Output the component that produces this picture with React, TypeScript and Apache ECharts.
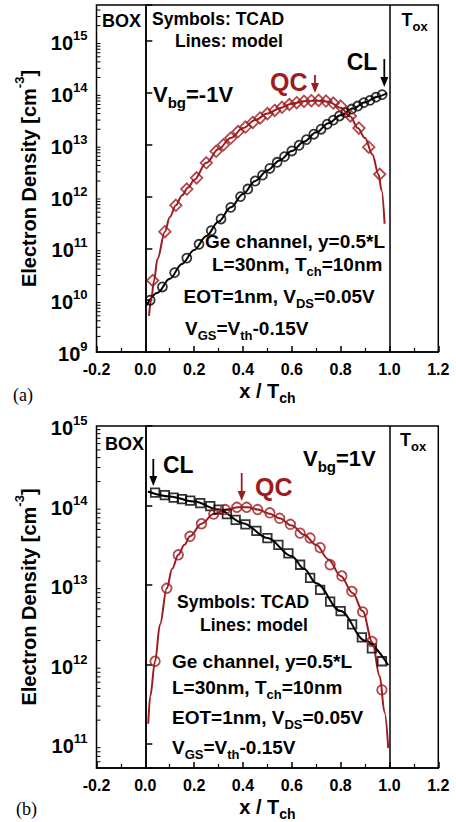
import { useEffect, useRef } from 'react';
import * as echarts from 'echarts';

const SANS = '"Liberation Sans", Arial, Helvetica, sans-serif';
const SERIF = '"Liberation Serif", "Times New Roman", serif';
const RED = '#9e1b1f';
const BLACK = '#000000';

// ---------- axes ----------
const X_MIN = -0.2;
const X_MAX = 1.2;
const X_STEP = 0.2;
const A_Y_MIN = 1e9;
const A_Y_MAX = 5e15;
const B_Y_MIN = 5e10;
const B_Y_MAX = 1e15;
const MINOR_MULT = [2, 3, 4, 5, 6, 7, 8, 9];
const A_DECADES = [1e9, 1e10, 1e11, 1e12, 1e13, 1e14, 1e15];
const B_DECADES = [1e10, 1e11, 1e12, 1e13, 1e14];

// ---------- panel (a), Vbg = -1 V ----------
const A_CL_LINE_X = [0.005, 0.05, 0.1, 0.15, 0.2, 0.25, 0.3, 0.35, 0.4, 0.45, 0.5, 0.55, 0.6, 0.65, 0.7, 0.75, 0.8, 0.85, 0.9, 0.95, 0.99];
const A_CL_LINE_Y = [8.0e9, 1.4e10, 2.6e10, 5.0e10, 9.3e10, 1.74e11, 3.3e11, 6.2e11, 1.12e12, 2.0e12, 3.2e12, 5.0e12, 7.6e12, 1.15e13, 1.74e13, 2.6e13, 3.7e13, 5.0e13, 6.6e13, 8.5e13, 1.0e14];
const A_CL_PTS_X = [0.02, 0.07, 0.12, 0.17, 0.22, 0.27, 0.31, 0.35, 0.39, 0.42, 0.45, 0.48, 0.51, 0.54, 0.57, 0.6, 0.63, 0.66, 0.69, 0.72, 0.745, 0.77, 0.795, 0.82, 0.845, 0.87, 0.895, 0.92, 0.945, 0.97];
const A_CL_PTS_Y = [1.0e10, 1.8e10, 3.4e10, 6.5e10, 1.2e11, 2.2e11, 3.7e11, 6.2e11, 1.0e12, 1.4e12, 2.0e12, 2.6e12, 3.5e12, 4.6e12, 5.9e12, 7.6e12, 9.8e12, 1.26e13, 1.6e13, 2.0e13, 2.5e13, 3.0e13, 3.6e13, 4.2e13, 4.9e13, 5.6e13, 6.5e13, 7.2e13, 8.3e13, 9.3e13];
const A_QC_LINE_X = [0.015, 0.025, 0.035, 0.05, 0.08, 0.1, 0.125, 0.15, 0.175, 0.2, 0.25, 0.3, 0.35, 0.4, 0.45, 0.5, 0.55, 0.6, 0.65, 0.7, 0.75, 0.8, 0.84, 0.87, 0.9, 0.93, 0.955, 0.968, 0.98];
const A_QC_LINE_Y = [5.0e9, 1.1e10, 2.3e10, 6.3e10, 2.1e11, 4.0e11, 6.8e11, 1.05e12, 1.5e12, 2.1e12, 4.5e12, 8.3e12, 1.35e13, 2.1e13, 3.0e13, 4.0e13, 5.1e13, 6.2e13, 6.9e13, 7.2e13, 6.8e13, 5.2e13, 3.5e13, 2.1e13, 1.35e13, 6.5e12, 2.7e12, 1.3e12, 3.0e11];
const A_QC_PTS_X = [0.03, 0.08, 0.125, 0.17, 0.21, 0.25, 0.29, 0.32, 0.35, 0.38, 0.41, 0.44, 0.47, 0.5, 0.53, 0.56, 0.59, 0.62, 0.65, 0.68, 0.71, 0.74, 0.77, 0.8, 0.84, 0.875, 0.915, 0.96];
const A_QC_PTS_Y = [2.4e10, 2.1e11, 6.8e11, 1.4e12, 2.3e12, 4.5e12, 7.5e12, 1.0e13, 1.35e13, 1.8e13, 2.2e13, 2.7e13, 3.3e13, 4.0e13, 4.6e13, 5.3e13, 6.0e13, 6.5e13, 6.9e13, 7.1e13, 7.2e13, 7.0e13, 6.4e13, 5.6e13, 3.6e13, 2.1e13, 9.0e12, 2.7e12];

// ---------- panel (b), Vbg = 1 V ----------
const B_CL_LINE_X = [0.01, 0.1, 0.2, 0.3, 0.4, 0.5, 0.6, 0.65, 0.7, 0.8, 0.9, 0.995];
const B_CL_LINE_Y = [1.5e14, 1.3e14, 1.12e14, 8.9e13, 6.0e13, 3.9e13, 2.3e13, 1.6e13, 1.05e13, 4.7e12, 2.0e12, 9.8e11];
const B_CL_PTS_X = [0.04, 0.08, 0.116, 0.15, 0.184, 0.225, 0.266, 0.3, 0.334, 0.37, 0.41, 0.455, 0.5, 0.545, 0.586, 0.634, 0.675, 0.716, 0.757, 0.8, 0.847, 0.887, 0.928, 0.969];
const B_CL_PTS_Y = [1.45e14, 1.35e14, 1.26e14, 1.2e14, 1.15e14, 1.07e14, 9.8e13, 8.9e13, 7.8e13, 6.6e13, 5.8e13, 4.8e13, 3.9e13, 3.2e13, 2.5e13, 1.8e13, 1.23e13, 8.7e12, 6.2e12, 4.7e12, 3.2e12, 2.2e12, 1.6e12, 1.1e12];
const B_QC_LINE_X = [0.012, 0.02, 0.04, 0.06, 0.088, 0.11, 0.135, 0.16, 0.183, 0.23, 0.28, 0.33, 0.38, 0.42, 0.46, 0.51, 0.55, 0.6, 0.65, 0.7, 0.75, 0.8, 0.85, 0.89, 0.93, 0.96, 0.98, 0.995];
const B_QC_LINE_Y = [1.8e11, 4.0e11, 1.1e12, 3.2e12, 9.1e12, 1.6e13, 2.4e13, 3.2e13, 4.1e13, 5.9e13, 7.8e13, 8.9e13, 9.5e13, 9.5e13, 8.9e13, 7.9e13, 6.9e13, 5.6e13, 4.3e13, 3.2e13, 2.1e13, 1.3e13, 7.9e12, 4.7e12, 1.9e12, 7.1e11, 2.5e11, 8.9e10];
const B_QC_PTS_X = [0.04, 0.088, 0.135, 0.183, 0.23, 0.28, 0.327, 0.375, 0.415, 0.46, 0.51, 0.55, 0.594, 0.634, 0.675, 0.716, 0.757, 0.805, 0.846, 0.89, 0.928, 0.969];
const B_QC_PTS_Y = [1.1e12, 9.1e12, 2.4e13, 4.1e13, 5.9e13, 7.8e13, 8.9e13, 9.5e13, 9.5e13, 8.9e13, 8.1e13, 6.9e13, 5.8e13, 4.5e13, 3.9e13, 2.95e13, 1.8e13, 1.3e13, 8.3e12, 4.6e12, 1.95e12, 4.8e11];

const zip = (xs: number[], ys: number[]) => xs.map((x, i) => [x, ys[i]]);

function minorValues(decades: number[], min: number, max: number) {
  const out: number[][] = [];
  decades.forEach((d) => MINOR_MULT.forEach((m) => {
    const v = m * d;
    if (v > min && v < max) out.push([X_MIN, v]);
  }));
  return out;
}

type Part = [string, 'n' | 'sub'];
function richOf(size: number, color: string, family = SANS, weight = 'bold') {
  const sub = Math.round(size * 0.7);
  return {
    n: { fontFamily: family, fontWeight: weight, fontSize: size, lineHeight: Math.round(size * 1.2), fill: color, color, verticalAlign: 'top' },
    sub: { fontFamily: family, fontWeight: weight, fontSize: sub, lineHeight: Math.round(size * 0.77), padding: [Math.round(size * 0.66), 0, 0, 0], fill: color, color, verticalAlign: 'bottom' },
  };
}
function txt(left: number, cy: number, parts: Part[], size: number, color = BLACK, family = SANS, weight = 'bold') {
  return {
    type: 'text',
    x: left,
    y: cy - size * 0.6,
    z: 50,
    silent: true,
    style: {
      text: parts.map(([t, k]) => `{${k}|${t}}`).join(''),
      rich: richOf(size, color, family, weight),
      font: `${weight} ${size}px ${family}`,
      fill: color,
      align: 'left',
      verticalAlign: 'top',
      textAlign: 'left',
      textVerticalAlign: 'top',
    },
  };
}
function arrow(x: number, y1: number, y2: number, color: string) {
  return [
    { type: 'line', z: 50, silent: true, shape: { x1: x, y1, x2: x, y2: y2 - 6 }, style: { stroke: color, lineWidth: 1.8 } },
    { type: 'polygon', z: 50, silent: true, shape: { points: [[x - 4, y2 - 10], [x + 4, y2 - 10], [x, y2]] }, style: { fill: color } },
  ];
}

const xAxisOf = (gridIndex: number) => ({
  type: 'value',
  gridIndex,
  min: X_MIN,
  max: X_MAX,
  interval: X_STEP,
  name: '{n|x / T}{sub|ch}',
  nameLocation: 'middle',
  nameGap: 29,
  nameTextStyle: {
    rich: {
      n: { fontFamily: SANS, fontWeight: 'bold', fontSize: 20, color: BLACK, lineHeight: 24, verticalAlign: 'top' },
      sub: { fontFamily: SANS, fontWeight: 'bold', fontSize: 14, color: BLACK, lineHeight: 15, padding: [13, 0, 0, 0], verticalAlign: 'bottom' },
    },
  },
  axisLine: { show: true, lineStyle: { color: BLACK, width: 1.5 } },
  axisTick: { show: true, inside: true, length: 6, lineStyle: { color: BLACK, width: 1.5 } },
  minorTick: { show: true, splitNumber: 2, length: 4, lineStyle: { color: BLACK, width: 1.2 } },
  splitLine: { show: false },
  axisLabel: { fontFamily: SANS, fontWeight: 'bold', fontSize: 16, color: BLACK, margin: 9, formatter: (v: number) => v.toFixed(1) },
});

const yAxisOf = (gridIndex: number, min: number, max: number) => ({
  type: 'log',
  logBase: 10,
  gridIndex,
  min,
  max,
  name: '{n|Electron Density [cm}{s|-3}{n|]}',
  nameLocation: 'middle',
  nameRotate: 90,
  nameGap: 58,
  nameTextStyle: {
    rich: {
      n: { fontFamily: SANS, fontWeight: 'bold', fontSize: 20, color: BLACK, lineHeight: 26, verticalAlign: 'bottom' },
      s: { fontFamily: SANS, fontWeight: 'bold', fontSize: 13, color: BLACK, lineHeight: 14, verticalAlign: 'top' },
    },
  },
  axisLine: { show: true, lineStyle: { color: BLACK, width: 1.5 } },
  axisTick: { show: true, inside: true, length: 7, lineStyle: { color: BLACK, width: 1.5 } },
  splitLine: { show: false },
  axisLabel: {
    margin: 9,
    formatter: (v: number) => {
      const l = Math.log10(v);
      const e = Math.round(l);
      if (Math.abs(l - e) > 1e-6) return '';
      return `{b|10}{s|${e}}`;
    },
    rich: {
      b: { fontFamily: SANS, fontWeight: 'bold', fontSize: 20, color: BLACK, lineHeight: 24, verticalAlign: 'bottom' },
      s: { fontFamily: SANS, fontWeight: 'bold', fontSize: 13, color: BLACK, lineHeight: 13, verticalAlign: 'top' },
    },
  },
});

const boundaryMarkLine = {
  silent: true,
  symbol: ['none', 'none'],
  label: { show: false },
  lineStyle: { color: BLACK, width: 1.5, type: 'solid' },
  data: [{ xAxis: 0 }, { xAxis: 1 }],
};

const lineSeries = (idx: number, xs: number[], ys: number[], color: string, withMark: boolean) => ({
  type: 'line',
  xAxisIndex: idx,
  yAxisIndex: idx,
  data: zip(xs, ys),
  showSymbol: false,
  smooth: 0.35,
  smoothMonotone: 'x',
  lineStyle: { color, width: 2 },
  z: 3,
  ...(withMark ? { markLine: boundaryMarkLine } : {}),
});

const scatterSeries = (idx: number, xs: number[], ys: number[], color: string, symbol: string, size: number) => ({
  type: 'scatter',
  xAxisIndex: idx,
  yAxisIndex: idx,
  data: zip(xs, ys),
  symbol,
  symbolSize: size,
  itemStyle: { color: 'rgba(255,255,255,0)', borderColor: color, borderWidth: 1.8 },
  z: 4,
});

const minorTickSeries = (idx: number, data: number[][]) => ({
  type: 'custom',
  xAxisIndex: idx,
  yAxisIndex: idx,
  data,
  silent: true,
  z: 5,
  renderItem: (_p: any, api: any) => {
    const p = api.coord([api.value(0), api.value(1)]);
    return { type: 'line', shape: { x1: p[0], y1: p[1], x2: p[0] + 4, y2: p[1] }, style: { stroke: BLACK, lineWidth: 1 } };
  },
});

const GRID_LEFT = 96.5;
const GRID_W = 341.8;

const option = {
  animation: false,
  backgroundColor: '#ffffff',
  textStyle: { fontFamily: SANS },
  grid: [
    { left: GRID_LEFT, top: 5, width: GRID_W, height: 347, show: true, borderColor: BLACK, borderWidth: 1.5, backgroundColor: 'transparent' },
    { left: GRID_LEFT, top: 426, width: GRID_W, height: 347, show: true, borderColor: BLACK, borderWidth: 1.5, backgroundColor: 'transparent' },
  ],
  xAxis: [xAxisOf(0), xAxisOf(1)],
  yAxis: [yAxisOf(0, A_Y_MIN, A_Y_MAX), yAxisOf(1, B_Y_MIN, B_Y_MAX)],
  series: [
    lineSeries(0, A_CL_LINE_X, A_CL_LINE_Y, BLACK, true),
    lineSeries(0, A_QC_LINE_X, A_QC_LINE_Y, RED, false),
    scatterSeries(0, A_CL_PTS_X, A_CL_PTS_Y, BLACK, 'circle', 9),
    scatterSeries(0, A_QC_PTS_X, A_QC_PTS_Y, RED, 'diamond', 11.5),
    minorTickSeries(0, minorValues(A_DECADES, A_Y_MIN, A_Y_MAX)),
    lineSeries(1, B_CL_LINE_X, B_CL_LINE_Y, BLACK, true),
    lineSeries(1, B_QC_LINE_X, B_QC_LINE_Y, RED, false),
    scatterSeries(1, B_CL_PTS_X, B_CL_PTS_Y, BLACK, 'rect', 8.5),
    scatterSeries(1, B_QC_PTS_X, B_QC_PTS_Y, RED, 'circle', 9.5),
    minorTickSeries(1, minorValues(B_DECADES, B_Y_MIN, B_Y_MAX)),
  ],
  graphic: [
    // panel (a)
    txt(102, 23, [['BOX', 'n']], 18),
    txt(152, 20.7, [['Symbols: TCAD', 'n']], 17.5),
    txt(175, 42, [['Lines: model', 'n']], 17.5),
    txt(401.5, 22, [['T', 'n'], ['ox', 'sub']], 18),
    txt(153, 97, [['V', 'n'], ['bg', 'sub'], ['=-1V', 'n']], 22),
    txt(270, 84, [['QC', 'n']], 25, RED),
    ...arrow(315, 75, 93, RED),
    txt(346.7, 64, [['CL', 'n']], 23),
    ...arrow(384.3, 59, 87, BLACK),
    txt(205, 243, [['Ge channel, y=0.5*L', 'n']], 19),
    txt(212, 266.5, [['L=30nm, T', 'n'], ['ch', 'sub'], ['=10nm', 'n']], 19),
    txt(183.5, 298.5, [['EOT=1nm, V', 'n'], ['DS', 'sub'], ['=0.05V', 'n']], 19),
    txt(185, 330.5, [['V', 'n'], ['GS', 'sub'], ['=V', 'n'], ['th', 'sub'], ['-0.15V', 'n']], 19),
    txt(13, 397, [['(a)', 'n']], 18, BLACK, SERIF, 'normal'),
    // panel (b)
    txt(105, 446, [['BOX', 'n']], 18),
    txt(163, 467.5, [['CL', 'n']], 23),
    ...arrow(153.3, 459, 486, BLACK),
    txt(255, 489, [['QC', 'n']], 25, RED),
    ...arrow(241.7, 473, 501, RED),
    txt(303, 461, [['V', 'n'], ['bg', 'sub'], ['=1V', 'n']], 22),
    txt(400, 442, [['T', 'n'], ['ox', 'sub']], 18),
    txt(177, 603, [['Symbols: TCAD', 'n']], 17.5),
    txt(200, 626.5, [['Lines: model', 'n']], 17.5),
    txt(172, 663.5, [['Ge channel, y=0.5*L', 'n']], 19),
    txt(172, 689, [['L=30nm, T', 'n'], ['ch', 'sub'], ['=10nm', 'n']], 19),
    txt(172, 719, [['EOT=1nm, V', 'n'], ['DS', 'sub'], ['=0.05V', 'n']], 19),
    txt(172, 749.5, [['V', 'n'], ['GS', 'sub'], ['=V', 'n'], ['th', 'sub'], ['-0.15V', 'n']], 19),
    txt(16, 811, [['(b)', 'n']], 18, BLACK, SERIF, 'normal'),
  ],
};

export default function App() {
  const ref = useRef<HTMLDivElement>(null);
  useEffect(() => {
    document.body.style.margin = '0';
    if (!ref.current) return;
    const chart = echarts.init(ref.current, null, { renderer: 'svg' });
    chart.setOption(option as any);
    return () => chart.dispose();
  }, []);
  return <div ref={ref} style={{ width: 456, height: 822 }} />;
}
